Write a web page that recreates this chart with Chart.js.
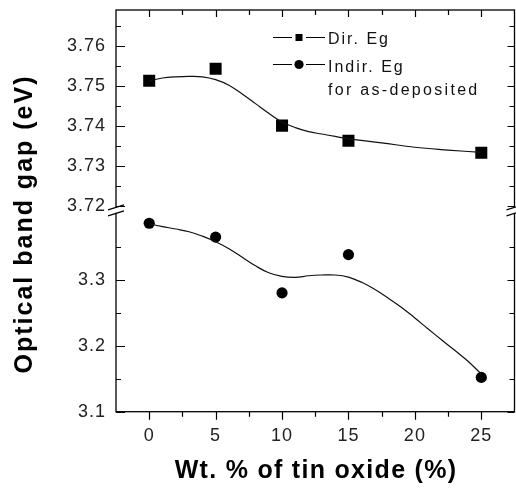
<!DOCTYPE html>
<html><head><meta charset="utf-8">
<script src="https://cdn.jsdelivr.net/npm/chart.js@4.4.0/dist/chart.umd.min.js"></script>
<style>html,body{margin:0;padding:0;background:#fff;}</style>
</head><body>
<canvas id="c" width="516" height="488"></canvas>
<script>
// ---- data ----
const wtPercent = [0, 5, 10, 15, 25];
const dirEg   = [3.7513, 3.7543, 3.7401, 3.7363, 3.7333];
const indirEg = [3.3855, 3.3645, 3.2800, 3.3380, 3.1520];

// smooth fitted curves
const dirFitX = [0, 1, 2, 3, 4, 5, 6, 7, 8, 9, 10, 11, 12, 13, 14, 15, 17.5, 20, 22.5, 25];
const dirFitY = [3.7513, 3.7520, 3.7523, 3.7524, 3.7523, 3.7516, 3.7502, 3.7480, 3.7456, 3.7432,
                 3.7410, 3.7396, 3.7386, 3.7380, 3.7374, 3.7368, 3.7358, 3.7347, 3.7340, 3.7334];
const indFitX = [0, 1, 2, 3, 4, 5, 6, 7, 8, 9, 10, 11, 12, 13, 14, 15, 16, 17, 18, 19, 20, 21, 22, 23, 24, 25];
const indFitY = [3.3845, 3.3805, 3.3768, 3.3727, 3.3660, 3.3576, 3.3470, 3.3340, 3.3210, 3.3105,
                 3.3050, 3.3035, 3.3060, 3.3071, 3.3071, 3.3040, 3.2960, 3.2850, 3.2720, 3.2580,
                 3.2420, 3.2253, 3.2090, 3.1930, 3.1765, 3.1570];

const seriesLabels = ['Dir. Eg', 'Indir. Eg'];
const legendNote = 'for as-deposited';
const xTitle = 'Wt. % of tin oxide (%)';
const yTitle = 'Optical band gap (eV)';

const xTicks = [0, 5, 10, 15, 20, 25];
const xMinor = [2.5, 7.5, 12.5, 17.5, 22.5];
const yTopTicks = [3.72, 3.73, 3.74, 3.75, 3.76];
const yTopMinor = [3.725, 3.735, 3.745, 3.755, 3.765];
const yBotTicks = [3.1, 3.2, 3.3];
const yBotMinor = [3.15, 3.25, 3.35];

const FONT = "'Liberation Sans', Arial, sans-serif";

const pts = (xs, ys) => xs.map((x, i) => ({x: x, y: ys[i]}));

const decorPlugin = {
  id: 'decor',
  beforeDraw(chart) {
    chart.ctx.letterSpacing = '1px';
  },
  afterDraw(chart) {
    const {ctx, chartArea: a, scales} = chart;
    const sx = scales.x, yt = scales.yTop, yb = scales.yBot;
    ctx.save();
    ctx.strokeStyle = '#000';
    ctx.lineWidth = 1.3;
    ctx.strokeRect(a.left, a.top, a.right - a.left, a.bottom - a.top);

    ctx.lineWidth = 1.2;
    ctx.beginPath();
    xTicks.forEach(v => {
      const p = Math.round(sx.getPixelForValue(v)) + 0.5;
      ctx.moveTo(p, a.bottom); ctx.lineTo(p, a.bottom + 8);
      ctx.moveTo(p, a.top); ctx.lineTo(p, a.top + 7);
    });
    xMinor.forEach(v => {
      const p = Math.round(sx.getPixelForValue(v)) + 0.5;
      ctx.moveTo(p, a.bottom); ctx.lineTo(p, a.bottom + 5);
      ctx.moveTo(p, a.top); ctx.lineTo(p, a.top + 5);
    });
    [[yt, yTopTicks, yTopMinor], [yb, yBotTicks, yBotMinor]].forEach(([s, maj, mn]) => {
      maj.forEach(v => {
        const p = Math.round(s.getPixelForValue(v)) + 0.5;
        ctx.moveTo(a.left, p); ctx.lineTo(a.left + 9, p);
        ctx.moveTo(a.right, p); ctx.lineTo(a.right - 7, p);
      });
      mn.forEach(v => {
        const p = Math.round(s.getPixelForValue(v)) + 0.5;
        ctx.moveTo(a.left, p); ctx.lineTo(a.left + 5, p);
        ctx.moveTo(a.right, p); ctx.lineTo(a.right - 5, p);
      });
    });
    ctx.stroke();

    // axis break marks
    const by = yt.bottom;
    [a.left, a.right].forEach(bx => {
      ctx.fillStyle = '#fff';
      ctx.fillRect(bx - 2, by - 3, 4, 5);
      ctx.beginPath();
      ctx.moveTo(bx - 8, by - 1); ctx.lineTo(bx + 8, by - 6);
      ctx.moveTo(bx - 8, by + 5); ctx.lineTo(bx + 8, by);
      ctx.stroke();
    });

    // legend
    ctx.fillStyle = '#000';
    ctx.lineWidth = 1.2;
    ctx.beginPath();
    ctx.moveTo(273, 37.5); ctx.lineTo(292, 37.5);
    ctx.moveTo(306, 37.5); ctx.lineTo(325, 37.5);
    ctx.moveTo(273, 64.5); ctx.lineTo(292, 64.5);
    ctx.moveTo(306, 64.5); ctx.lineTo(325, 64.5);
    ctx.stroke();
    ctx.fillRect(295.5, 34, 7, 7);
    ctx.beginPath(); ctx.arc(299, 64.5, 4.6, 0, Math.PI * 2); ctx.fill();
    ctx.font = '16px ' + FONT;
    ctx.letterSpacing = '2px';
    ctx.fillStyle = '#111';
    ctx.textAlign = 'left';
    ctx.textBaseline = 'alphabetic';
    ctx.fillText(seriesLabels[0], 328, 43.5);
    ctx.fillText(seriesLabels[1], 328, 71.5);
    ctx.letterSpacing = '2.3px';
    ctx.fillText(legendNote, 328, 94.5);

    // axis titles
    ctx.fillStyle = '#000';
    ctx.font = 'bold 25px ' + FONT;
    ctx.letterSpacing = '1.3px';
    ctx.textAlign = 'center';
    ctx.fillText(xTitle, 316, 478);
    ctx.save();
    ctx.translate(32, 224);
    ctx.rotate(-Math.PI / 2);
    ctx.letterSpacing = '2px';
    ctx.fillText(yTitle, 0, 0);
    ctx.restore();
    ctx.restore();
  }
};

const tickFont = {family: FONT, size: 18};
const noPad = s => { s.paddingLeft = 0; s.paddingRight = 0; s.paddingTop = 0; s.paddingBottom = 0; };

new Chart(document.getElementById('c'), {
  type: 'line',
  data: {
    datasets: [
      {label: seriesLabels[0] + ' fit', data: pts(dirFitX, dirFitY), yAxisID: 'yTop',
       borderColor: '#111', borderWidth: 1.2, pointRadius: 0, tension: 0.4, fill: false},
      {label: seriesLabels[0], data: pts(wtPercent, dirEg), yAxisID: 'yTop', showLine: false,
       pointStyle: 'rect', pointRadius: 8.5, pointBorderWidth: 0, backgroundColor: '#000', borderColor: '#000'},
      {label: seriesLabels[1] + ' fit', data: pts(indFitX, indFitY), yAxisID: 'yBot',
       borderColor: '#111', borderWidth: 1.2, pointRadius: 0, tension: 0.4, fill: false},
      {label: seriesLabels[1], data: pts(wtPercent, indirEg), yAxisID: 'yBot', showLine: false,
       pointStyle: 'circle', pointRadius: 5.6, pointBorderWidth: 0, backgroundColor: '#000', borderColor: '#000'}
    ]
  },
  options: {
    responsive: false,
    animation: false,
    devicePixelRatio: 1,
    layout: {autoPadding: false, padding: {top: 10, right: 1.5, left: 0, bottom: 0}},
    plugins: {legend: {display: false}, tooltip: {enabled: false}},
    scales: {
      x: {
        type: 'linear', min: -2.5, max: 27.5,
        grid: {display: false, drawTicks: false}, border: {display: false},
        afterBuildTicks: s => { s.ticks = xTicks.map(v => ({value: v})); },
        afterFit: s => { s.height = 76.3; noPad(s); },
        ticks: {autoSkip: false, maxRotation: 0, padding: 14, font: tickFont, color: '#222',
                callback: v => String(v)}
      },
      yBot: {
        type: 'linear', position: 'left', stack: 'y', stackWeight: 1, min: 3.1, max: 3.4043,
        grid: {display: false, drawTicks: false}, border: {display: false},
        afterBuildTicks: s => { s.ticks = yBotTicks.map(v => ({value: v})); },
        afterFit: s => { s.width = 116; noPad(s); },
        ticks: {autoSkip: false, padding: 10, font: tickFont, color: '#222',
                callback: v => Number(v).toFixed(1)}
      },
      yTop: {
        type: 'linear', position: 'left', stack: 'y', stackWeight: 1, min: 3.7188, max: 3.769,
        grid: {display: false, drawTicks: false}, border: {display: false},
        afterBuildTicks: s => { s.ticks = yTopTicks.map(v => ({value: v})); },
        afterFit: s => { s.width = 116; noPad(s); },
        ticks: {autoSkip: false, padding: 10, font: tickFont, color: '#222',
                callback: v => Number(v).toFixed(2)}
      }
    }
  },
  plugins: [decorPlugin]
});
</script>
</body></html>
